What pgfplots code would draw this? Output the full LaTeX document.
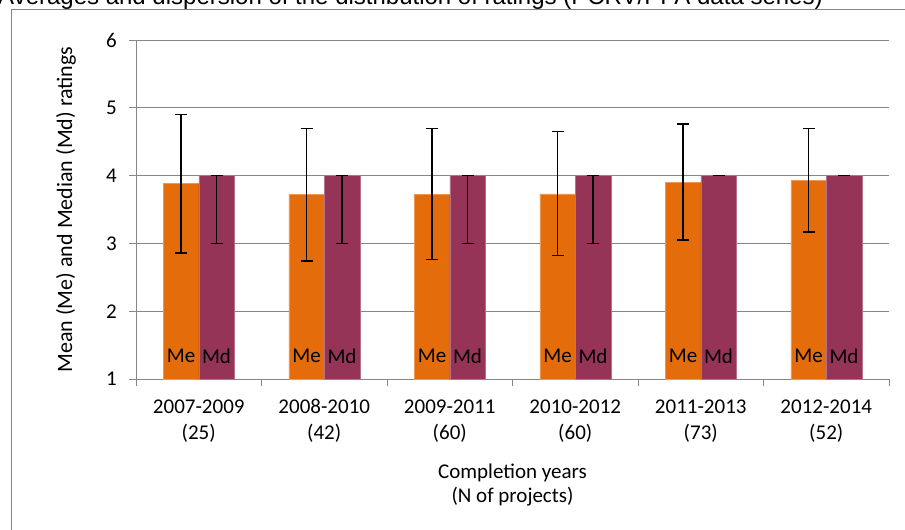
\documentclass[border=0pt]{standalone}
\usepackage{fontspec}
\setmainfont{Carlito}
\newfontfamily\titlefont{Liberation Sans}
\usepackage{pgfplots}
\pgfplotsset{compat=1.18}

\definecolor{meorange}{HTML}{E46C0A}
\definecolor{mdpurple}{HTML}{953456}
\definecolor{gridgray}{HTML}{868686}

\begin{document}
\fontsize{21}{25.5}\selectfont
\begin{tikzpicture}
\path[use as bounding box] (0,0) rectangle (905pt,-530pt);
% chart frame (only top and left edges fall inside the picture)
\draw[gridgray, line width=1.2pt] (915pt,-9.7pt) -- (11.7pt,-9.7pt) -- (11.7pt,-540pt);
\node[anchor=base west, inner sep=0, font=\titlefont\fontsize{24}{28}\selectfont]
  at (-2pt,-5pt) {Averages and dispersion of the distribution of ratings (PCRV/PPA data series)};

\begin{axis}[
  at={(136pt,-379pt)}, anchor=south west,
  scale only axis, width=753pt, height=339pt,
  ybar=0pt, bar width=35.5pt,
  xmin=-0.5, xmax=5.5, ymin=1, ymax=6,
  axis x line*=bottom, axis y line*=left,
  axis line style={gridgray, line width=1pt},
  tick style={gridgray, line width=1pt},
  tick align=outside, major tick length=7pt, minor tick length=7pt,
  ymajorgrids, major grid style={gridgray, line width=1pt},
  ytick={1,...,6},
  xtick={0,...,5},
  minor xtick={-0.5,0.5,...,5.5},
  major x tick style={draw=none},
  minor x tick style={draw=gridgray, line width=1pt},
  xticklabels={{2007-2009\\(25)},{2008-2010\\(42)},{2009-2011\\(60)},
               {2010-2012\\(60)},{2011-2013\\(73)},{2012-2014\\(52)}},
  xticklabel style={align=center, anchor=north, text height=14pt,
    font=\fontsize{21}{25.5}\selectfont, yshift=-32pt},
  yticklabel style={font=\fontsize{21}{25.5}\selectfont, xshift=-5pt},
  /pgf/number format/assume math mode=true,
  xlabel={Completion years\\(N of projects)},
  xlabel style={align=center, font=\fontsize{21}{24}\selectfont, yshift=-8pt},
  ylabel={Mean (Me) and Median (Md) ratings},
  ylabel style={font=\fontsize{22}{26}\selectfont, yshift=16pt},
  error bars/error bar style={black, line width=1.3pt},
  error bars/error mark options={black, rotate=90, mark size=6pt, line width=1.3pt},
]
% Mean (Me) with dispersion
\addplot[fill=meorange, draw=meorange!70!white, line width=0.5pt,
  error bars/.cd, y dir=both, y explicit]
  coordinates {
    (0,3.88) += (0,1.02) -= (0,1.02)
    (1,3.72) += (0,0.97) -= (0,0.98)
    (2,3.72) += (0,0.97) -= (0,0.96)
    (3,3.73) += (0,0.92) -= (0,0.91)
    (4,3.90) += (0,0.86) -= (0,0.85)
    (5,3.93) += (0,0.76) -= (0,0.76)
  };
% Median (Md) with dispersion
\addplot[fill=mdpurple, draw=mdpurple!70!white, line width=0.5pt,
  error bars/.cd, y dir=both, y explicit]
  coordinates {
    (0,4) += (0,0) -= (0,1)
    (1,4) += (0,0) -= (0,1)
    (2,4) += (0,0) -= (0,1)
    (3,4) += (0,0) -= (0,1)
    (4,4) += (0,0) -= (0,0)
    (5,4) += (0,0) -= (0,0)
  };
\pgfplotsinvokeforeach{0,...,5}{
  \node[xshift=-17.75pt, inner sep=0] at (axis cs:#1,1.34) {Me};
  \node[xshift=17.75pt, inner sep=0] at (axis cs:#1,1.34) {Md};
}
\end{axis}
\end{tikzpicture}
\end{document}
